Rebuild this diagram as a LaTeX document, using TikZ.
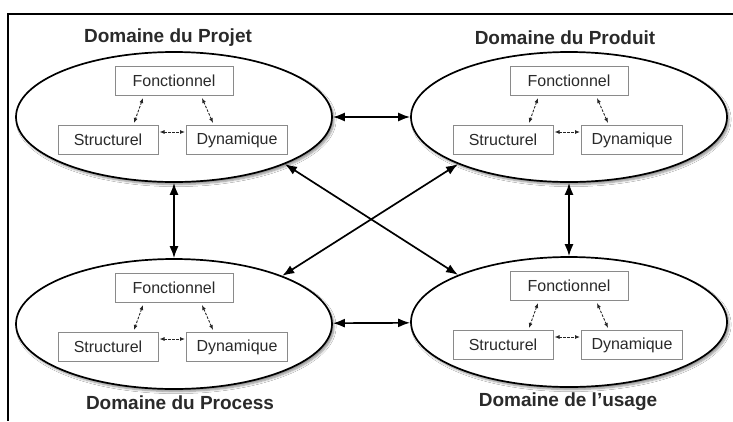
\documentclass[tikz,border=0pt]{standalone}
\usepackage{fontspec}
\setmainfont{Liberation Sans}
\usetikzlibrary{shapes.geometric,arrows.meta,shadows.blur}
\definecolor{boxgray}{HTML}{8A8A8A}
\definecolor{txt}{HTML}{2A2A2A}
\tikzset{
  domainell/.style={ellipse, draw=black, line width=1.7pt, fill=white, inner sep=0pt,
    minimum width=316pt, minimum height=130pt,
    blur shadow={shadow xshift=2pt, shadow yshift=-2.5pt, shadow blur steps=6, shadow opacity=45}},
  innerbox/.style={rectangle, draw=boxgray, line width=1pt, fill=white, inner sep=0pt,
    minimum height=29pt, text=txt, font=\fontsize{16}{18}\selectfont},
  dtitle/.style={font=\fontsize{19}{21}\selectfont\bfseries, text=txt, inner sep=0pt},
  mainarrow/.style={line width=1.7pt, {Latex[length=12pt,width=9pt]}-{Latex[length=12pt,width=9pt]}},
  innerarrow/.style={line width=0.9pt, dash pattern=on 2.5pt off 1.5pt, black!85,
    {Latex[length=5pt,width=4pt]}-{Latex[length=5pt,width=4pt]}},
}
\newcommand\mydomain[3]{%
  \node[domainell] (#1) at (#2,#3) {};
  \node[innerbox, minimum width=118pt] (#1f) at (#2,#3-36) {Fonctionnel};
  \node[innerbox, minimum width=100pt] (#1s) at (#2-66,#3+23) {Structurel};
  \node[innerbox, minimum width=101pt] (#1d) at (#2+63,#3+23) {Dynamique};
  \draw[innerarrow] ([xshift=-31pt,yshift=-2pt]#1f.south) -- ([xshift=26pt,yshift=2pt]#1s.north);
  \draw[innerarrow] ([xshift=28pt,yshift=-2pt]#1f.south) -- ([xshift=-24pt,yshift=2pt]#1d.north);
  \draw[innerarrow] ([xshift=1pt,yshift=8pt]#1s.east) -- ([xshift=-1pt,yshift=8pt]#1d.west);
}
\begin{document}
\begin{tikzpicture}[x=1pt,y=-1pt]
\useasboundingbox[fill=white] (0,0) rectangle (733,421);
\coordinate (fa) at (8,14);
\coordinate (fb) at (733,14);
\coordinate (fc) at (8,421);
\draw[line width=2pt] (fb) -- (fa) -- (fc);

\mydomain{TL}{174}{117}
\mydomain{TR}{569}{117}
\mydomain{BL}{174}{324}
\mydomain{BR}{569}{322}

\node[dtitle] (tTL) at (168,38) {Domaine du Projet};
\node[dtitle] (tTR) at (565,38) {Domaine du Produit};
\node[dtitle] (tBL) at (180,403) {Domaine du Process};
\node[dtitle] (tBR) at (568,402) {Domaine de l’usage};

\draw[mainarrow] (TL) -- (TR);
\draw[mainarrow] (BL) -- (BR);
\draw[mainarrow] (TL) -- (BL);
\draw[mainarrow] (TR) -- (BR);
\draw[mainarrow] (TL.-23.5) -- (BR.157);
\draw[mainarrow] (TR.203) -- (BL.24);
\end{tikzpicture}
\end{document}
